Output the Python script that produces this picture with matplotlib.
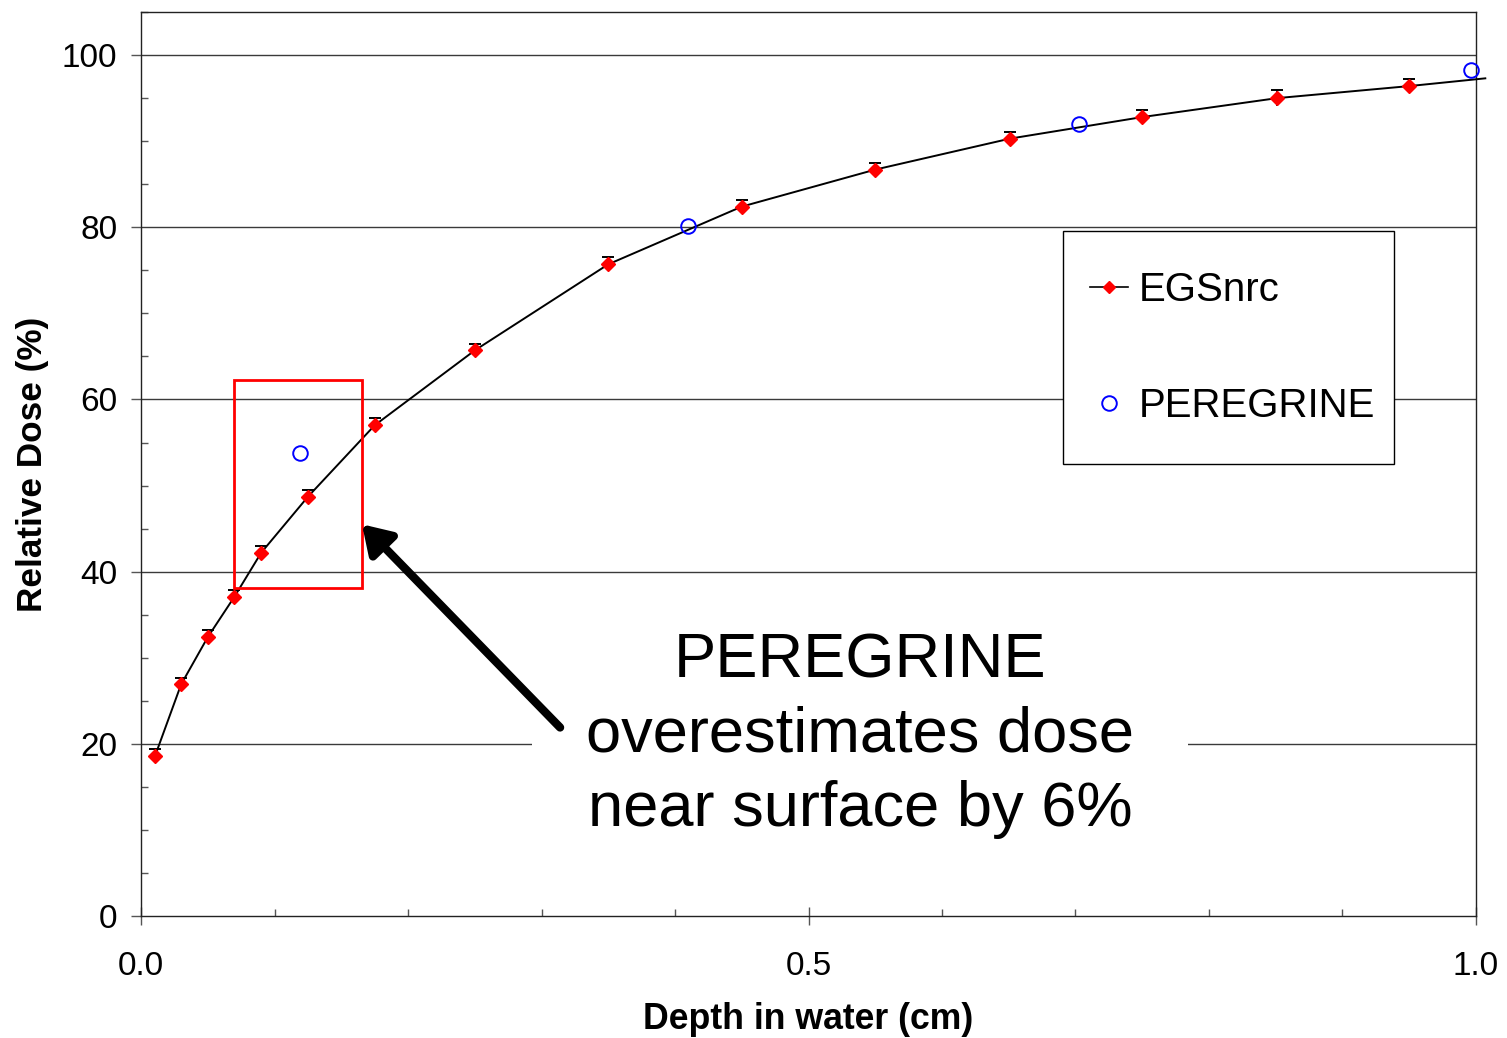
import numpy as np
import matplotlib
matplotlib.use("Agg")
import matplotlib.pyplot as plt
from matplotlib.lines import Line2D
from matplotlib.patches import Rectangle
from matplotlib.ticker import MultipleLocator, FixedLocator

plt.rcParams['font.family'] = ['Liberation Sans', 'DejaVu Sans']

# EGSnrc depth dose (cm, %)
egs_depth = [0.0105, 0.030, 0.050, 0.070, 0.090, 0.125, 0.175, 0.250, 0.350,
             0.450, 0.550, 0.651, 0.750, 0.851, 0.950]
egs_dose = [18.6, 26.9, 32.4, 37.1, 42.2, 48.7, 57.0, 65.7, 75.7,
            82.4, 86.7, 90.3, 92.8, 95.0, 96.4]
egs_err = [0.8, 0.8, 0.8, 0.8, 0.8, 0.8, 0.8, 0.8, 0.8,
           0.8, 0.8, 0.8, 0.8, 0.9, 0.8]
# the curve runs slightly past the last marker
egs_tail_depth = [1.007]
egs_tail_dose = [97.3]

# PEREGRINE
per_depth = [0.119, 0.410, 0.703, 0.996]
per_dose = [53.8, 80.2, 92.0, 98.3]

fig = plt.figure(figsize=(15.07, 10.38), dpi=100)
ax = fig.add_axes([0.0936, 0.1175, 0.8858, 0.8709])

ax.set_xlim(0, 1.0)
ax.set_ylim(0, 105)

# grid
for v in [20, 40, 60, 80, 100]:
    ax.axhline(v, color='#3a3a3a', lw=1.0, zorder=1)

# curve
ax.plot(egs_depth + egs_tail_depth, egs_dose + egs_tail_dose, color='black',
        lw=1.4, zorder=3, clip_on=False)
zeros = [0] * len(egs_err)
ax.errorbar(egs_depth, egs_dose, yerr=[zeros, egs_err], fmt='none',
            ecolor='black', elinewidth=1.2, capsize=4.3, capthick=1.4, zorder=4)
ax.errorbar(egs_depth, egs_dose, yerr=[egs_err, zeros], fmt='none',
            ecolor='black', elinewidth=1.2, capsize=0, zorder=4)
ax.plot(egs_depth, egs_dose, ls='none', marker='D', ms=7.3, mfc='red', mec='red',
        zorder=5)
ax.plot(per_depth, per_dose, ls='none', marker='o', ms=10.5, mfc='none',
        mec='blue', mew=1.4, zorder=5, clip_on=False)

# highlight box
ax.add_patch(Rectangle((0.0697, 38.1), 0.0958, 24.2, fill=False,
                       edgecolor='red', lw=2.0, zorder=6))

# annotation text and arrow
ax.add_patch(Rectangle((0.293, 14.0), 0.491, 16.0, facecolor='white',
                       edgecolor='none', zorder=2))
ax.text(0.5386, 21.0, "PEREGRINE\noverestimates dose\nnear surface by 6%",
        ha='center', va='center', fontsize=45.5, linespacing=1.33, zorder=7)
ax.annotate("", xy=(0.1655, 45.5), xytext=(0.3139, 21.9),
            arrowprops=dict(arrowstyle='-|>,head_length=0.55,head_width=0.35',
                            mutation_scale=30, lw=6, color='black',
                            shrinkA=0, shrinkB=0), zorder=8)

# ticks
ax.xaxis.set_major_locator(FixedLocator([0.0, 0.5, 1.0]))
ax.xaxis.set_minor_locator(MultipleLocator(0.1))
ax.set_xticklabels(['0.0', '0.5', '1.0'])
ax.yaxis.set_major_locator(MultipleLocator(20))
ax.yaxis.set_minor_locator(MultipleLocator(5))
ax.tick_params(axis='y', which='major', direction='out', length=7, width=1.0,
               labelsize=24, pad=10, color='#555555')
ax.tick_params(axis='y', which='minor', direction='in', length=5, width=1.0,
               color='#555555')
ax.tick_params(axis='x', which='major', direction='inout', length=13, width=1.0,
               labelsize=24, pad=19, color='#555555')
ax.tick_params(axis='x', which='minor', direction='in', length=5, width=1.0,
               color='#555555')

for s in ax.spines.values():
    s.set_color('#222222')
    s.set_linewidth(1.0)

ax.set_xlabel("Depth in water (cm)", fontsize=25.7, fontweight='bold', labelpad=14)
ax.set_ylabel("Relative Dose (%)", fontsize=25.3, fontweight='bold', labelpad=9)

# legend: frame drawn separately so the padding can match
ax.add_patch(Rectangle((0.6906, 0.5), 0.248, 0.2577, transform=ax.transAxes,
                       facecolor='white', edgecolor='black', lw=1.0, zorder=9))
handles = [
    Line2D([], [], color='black', lw=1.2, marker='D', ms=6, mfc='red', mec='red'),
    Line2D([], [], ls='none', marker='o', ms=10.5, mfc='none', mec='blue', mew=1.4),
]
leg = ax.legend(handles, ['EGSnrc', 'PEREGRINE'], loc='center left',
                bbox_to_anchor=(0.7109, 0.6283), fontsize=29, frameon=False,
                labelspacing=1.95, handlelength=0.94, handletextpad=0.27,
                borderpad=0, borderaxespad=0, numpoints=1)
leg.set_zorder(10)

fig.savefig("out.png", dpi=100)
